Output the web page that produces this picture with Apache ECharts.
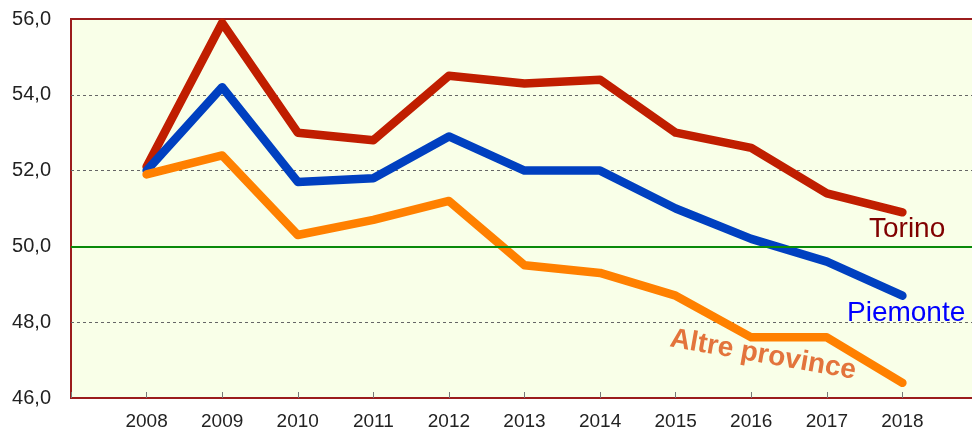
<!DOCTYPE html>
<html>
<head>
<meta charset="utf-8">
<script src="https://cdn.jsdelivr.net/npm/echarts@6/dist/echarts.min.js"></script>
<style>
    html, body { margin: 0; padding: 0; background: #fff; }
    #chart { width: 972px; height: 432px; }
</style>
</head>
<body>
<div id="chart"></div>
<script>
// dati
var years = [2008, 2009, 2010, 2011, 2012, 2013, 2014, 2015, 2016, 2017, 2018];
var torino = [52.1, 55.9, 53.0, 52.8, 54.5, 54.3, 54.4, 53.0, 52.6, 51.4, 50.9];
var piemonte = [52.0, 54.2, 51.7, 51.8, 52.9, 52.0, 52.0, 51.0, 50.2, 49.6, 48.7];
var altre = [51.9, 52.4, 50.3, 50.7, 51.2, 49.5, 49.3, 48.7, 47.6, 47.6, 46.4];
var yTicks = [46, 48, 50, 52, 54, 56];

function pairs(vals) {
    var out = [];
    for (var i = 0; i < years.length; i++) {
        out.push([years[i], vals[i]]);
    }
    return out;
}

function lineSeries(name, vals, color) {
    return {
        name: name,
        type: 'line',
        data: pairs(vals),
        symbol: 'none',
        z: 3,
        lineStyle: { color: color, width: 8.5, join: 'round', cap: 'round' }
    };
}

var chart = echarts.init(document.getElementById('chart'));
chart.setOption({
    animation: false,
    backgroundColor: '#ffffff',
    grid: {
        left: 71, top: 19, bottom: 34, right: -6,
        outerBoundsMode: 'none',
        containLabel: false,
        show: true,
        backgroundColor: '#f9ffe8',
        borderColor: '#9b1c1c',
        borderWidth: 2
    },
    xAxis: {
        type: 'value',
        min: years[0] - 1,
        max: years[years.length - 1] + 1,
        interval: 1,
        axisLine: { show: false },
        axisTick: { show: true, inside: true, length: 6, lineStyle: { color: '#777' } },
        splitLine: { show: false },
        axisLabel: {
            color: '#222',
            fontSize: 19,
            fontFamily: 'Liberation Sans',
            margin: 14,
            formatter: function (v) {
                return years.indexOf(v) >= 0 ? String(v) : '';
            }
        }
    },
    yAxis: {
        type: 'value',
        min: yTicks[0],
        max: yTicks[yTicks.length - 1],
        interval: 2,
        axisLine: { show: false },
        axisTick: { show: false },
        splitLine: {
            show: true,
            lineStyle: { color: ['transparent', '#666', 'transparent', '#666', '#666', 'transparent'], type: [3, 3], width: 1 }
        },
        axisLabel: {
            color: '#222',
            fontSize: 20,
            fontFamily: 'Liberation Sans',
            margin: 20,
            formatter: function (v) { return v.toFixed(1).replace('.', ','); }
        }
    },
    series: [
        {
            type: 'line',
            data: [],
            z: 1,
            markLine: {
                silent: true,
                symbol: 'none',
                label: { show: false },
                lineStyle: { color: '#0a8a0a', width: 2, type: 'solid' },
                data: [{ yAxis: 50 }]
            }
        },
        lineSeries('Torino', torino, '#c01e00'),
        lineSeries('Piemonte', piemonte, '#0040c0'),
        lineSeries('Altre province', altre, '#ff8000')
    ],
    graphic: [
        {
            type: 'text', left: 869, top: 215,
            style: { text: 'Torino', fill: '#800000', font: '28px "Liberation Sans"' }
        },
        {
            type: 'text', left: 847, top: 299,
            style: { text: 'Piemonte', fill: '#0000ff', font: '28px "Liberation Sans"' }
        },
        {
            type: 'text', x: 763, y: 355, rotation: -0.175,
            style: {
                text: 'Altre province', fill: '#e3743c',
                font: 'bold 28px "Liberation Sans"',
                align: 'center', verticalAlign: 'middle'
            }
        }
    ]
});
</script>
</body>
</html>
